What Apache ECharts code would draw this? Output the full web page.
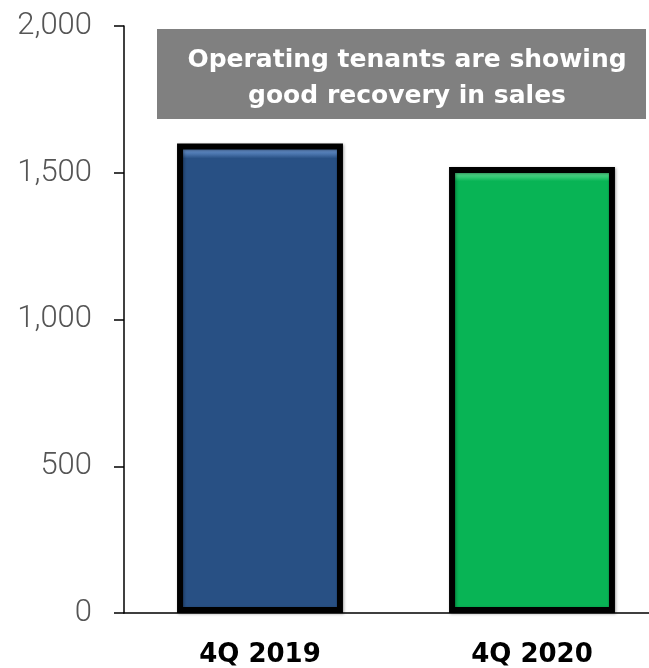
<!DOCTYPE html>
<html>
<head>
<meta charset="utf-8">
<script src="https://cdn.jsdelivr.net/npm/echarts@6/dist/echarts.min.js"></script>
<style>
  html, body { margin: 0; padding: 0; background: #ffffff; overflow: hidden; }
  #chart { width: 668px; height: 668px; }
</style>
</head>
<body>
<div id="chart"></div>
<script>
// Quarterly tenant sales
const categories = ['4Q 2019', '4Q 2020'];
const salesValues = [1600, 1520];
const yTicks = [0, 500, 1000, 1500, 2000];
const calloutLines = ['Operating tenants are showing', 'good recovery in sales'];

// Bar fills: a lighter bevel strip along the top, then the solid body
const barFills = [
  { edge: '#5b86c0', body: '#285084' },
  { edge: '#4ad686', body: '#08b455' }
];

function bevel(fill) {
  return new echarts.graphic.LinearGradient(0, 0, 0, 1, [
    { offset: 0, color: fill.edge },
    { offset: 0.018, color: fill.edge },
    { offset: 0.032, color: fill.body },
    { offset: 1, color: fill.body }
  ]);
}

const chart = echarts.init(document.getElementById('chart'), null, { renderer: 'canvas' });

chart.setOption({
  animation: false,
  backgroundColor: '#ffffff',
  grid: { left: 124, right: 0, top: 26, bottom: 55, containLabel: false },
  xAxis: {
    type: 'category',
    data: categories,
    axisLine: { show: true, lineStyle: { color: '#000000', width: 1.5 } },
    axisTick: { show: false },
    axisLabel: {
      color: '#000000',
      fontFamily: '"DejaVu Sans", sans-serif',
      fontWeight: 'bold',
      fontSize: 26,
      margin: 29
    }
  },
  yAxis: {
    type: 'value',
    min: yTicks[0],
    max: yTicks[yTicks.length - 1],
    interval: yTicks[1] - yTicks[0],
    splitLine: { show: false },
    axisLine: { show: true, lineStyle: { color: '#000000', width: 1.5 } },
    axisTick: { show: true, inside: false, length: 10, lineStyle: { color: '#000000', width: 1.5 } },
    axisLabel: {
      color: '#555555',
      fontFamily: 'Roboto, "DejaVu Sans", sans-serif',
      fontWeight: 300,
      fontSize: 31,
      margin: 32,
      formatter: v => v.toLocaleString('en-US')
    }
  },
  series: [{
    type: 'bar',
    barWidth: '61%',
    data: salesValues.map((v, i) => ({
      value: v,
      itemStyle: { color: bevel(barFills[i]) }
    })),
    itemStyle: {
      borderColor: '#000000',
      borderWidth: 6,
      shadowColor: 'rgba(0,0,0,0.35)',
      shadowBlur: 3,
      shadowOffsetX: 1,
      shadowOffsetY: 1
    }
  }],
  graphic: [{
    type: 'group',
    left: 157,
    top: 29,
    children: [
      {
        type: 'rect',
        shape: { x: 0, y: 0, width: 489, height: 90 },
        style: { fill: '#808080' }
      },
      {
        type: 'text',
        x: 250,
        y: 49,
        style: {
          text: calloutLines.join('\n'),
          fill: '#ffffff',
          font: 'bold 25px "DejaVu Sans", sans-serif',
          lineHeight: 36,
          align: 'center',
          verticalAlign: 'middle'
        }
      }
    ]
  }]
});
</script>
</body>
</html>
